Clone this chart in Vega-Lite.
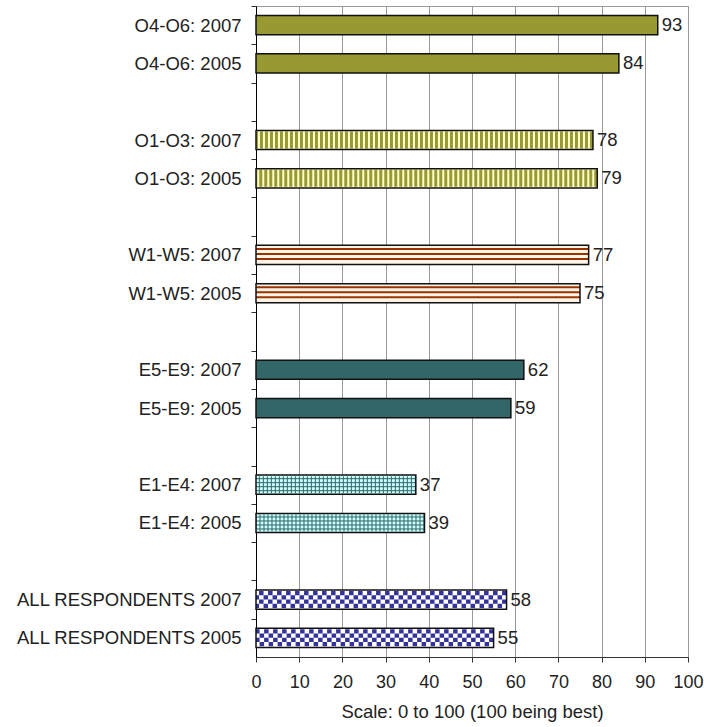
{
  "$schema": "https://vega.github.io/schema/vega-lite/v6.json",
  "width": 432,
  "height": 651,
  "autosize": {"type": "none"},
  "padding": {"left": 256, "top": 6, "right": 16, "bottom": 70},
  "background": "white",
  "config": {"view": {"stroke": "#999999", "strokeWidth": 1}, "font": "Liberation Sans"},
  "data": {"values": [
    {"label": "O4-O6: 2007", "group": "O4-O6", "value": 93},
    {"label": "O4-O6: 2005", "group": "O4-O6", "value": 84},
    {"label": "O1-O3: 2007", "group": "O1-O3", "value": 78},
    {"label": "O1-O3: 2005", "group": "O1-O3", "value": 79},
    {"label": "W1-W5: 2007", "group": "W1-W5", "value": 77},
    {"label": "W1-W5: 2005", "group": "W1-W5", "value": 75},
    {"label": "E5-E9: 2007", "group": "E5-E9", "value": 62},
    {"label": "E5-E9: 2005", "group": "E5-E9", "value": 59},
    {"label": "E1-E4: 2007", "group": "E1-E4", "value": 37},
    {"label": "E1-E4: 2005", "group": "E1-E4", "value": 39},
    {"label": "ALL RESPONDENTS 2007", "group": "ALL", "value": 58},
    {"label": "ALL RESPONDENTS 2005", "group": "ALL", "value": 55}
  ]},
  "encoding": {
    "y": {
      "field": "label",
      "type": "nominal",
      "scale": {
        "domain": ["O4-O6: 2007", "O4-O6: 2005", "gap1", "O1-O3: 2007", "O1-O3: 2005", "gap2", "W1-W5: 2007", "W1-W5: 2005", "gap3", "E5-E9: 2007", "E5-E9: 2005", "gap4", "E1-E4: 2007", "E1-E4: 2005", "gap5", "ALL RESPONDENTS 2007", "ALL RESPONDENTS 2005"],
        "paddingInner": 0.5,
        "paddingOuter": 0.25
      },
      "axis": {
        "title": null,
        "labelExpr": "indexof(datum.value, 'gap') == 0 ? '' : datum.value",
        "labelFontSize": 18.5,
        "labelLimit": 0,
        "labelColor": "#222222",
        "labelPadding": 10,
        "domainColor": "#000000",
        "tickColor": "#333333",
        "tickSize": 5,
        "tickOffset": -19.15,
        "labelOffset": 19.15,
        "grid": false
      }
    },
    "x": {
      "field": "value",
      "type": "quantitative",
      "scale": {"domain": [0, 100], "nice": false},
      "axis": {
        "title": "Scale: 0 to 100 (100 being best)",
        "values": [0, 10, 20, 30, 40, 50, 60, 70, 80, 90, 100],
        "grid": true,
        "gridColor": "#999999",
        "gridWidth": 1,
        "domainColor": "#333333",
        "tickColor": "#333333",
        "tickSize": 5,
        "labelFontSize": 18,
        "labelColor": "#222222",
        "labelPadding": 11,
        "labelFlush": false,
        "titleFontSize": 18.5,
        "titleFontWeight": "normal",
        "titleColor": "#222222",
        "titlePadding": 11
      }
    }
  },
  "layer": [
    {
      "mark": {"type": "bar", "strokeWidth": 0},
      "encoding": {
        "color": {
          "field": "group",
          "type": "nominal",
          "scale": {"domain": ["O4-O6", "O1-O3", "W1-W5", "E5-E9", "E1-E4", "ALL"], "range": ["#999933", "#ffffcc", "#fff4e8", "#336666", "#ccffff", "#ffffff"]},
          "legend": null
        }
      }
    },
    {
      "transform": [{"filter": "datum.group == 'O1-O3'"}],
      "mark": {"type": "rule", "color": "#999933", "strokeWidth": 17, "strokeDash": [3, 2]},
      "encoding": {"x2": {"datum": 0}}
    },
    {
      "transform": [{"filter": "datum.group == 'W1-W5'"}],
      "mark": {"type": "rule", "color": "#993300", "strokeWidth": 2, "yOffset": -6},
      "encoding": {"x2": {"datum": 0}}
    },
    {
      "transform": [{"filter": "datum.group == 'W1-W5'"}],
      "mark": {"type": "rule", "color": "#993300", "strokeWidth": 2, "yOffset": -1},
      "encoding": {"x2": {"datum": 0}}
    },
    {
      "transform": [{"filter": "datum.group == 'W1-W5'"}],
      "mark": {"type": "rule", "color": "#993300", "strokeWidth": 2, "yOffset": 4},
      "encoding": {"x2": {"datum": 0}}
    },
    {
      "transform": [{"filter": "datum.group == 'E1-E4'"}],
      "mark": {"type": "rule", "color": "#336666", "strokeWidth": 17, "strokeDash": [1, 3]},
      "encoding": {"x2": {"datum": 0}}
    },
    {
      "transform": [{"filter": "datum.group == 'E1-E4'"}],
      "mark": {"type": "rule", "color": "#336666", "strokeWidth": 1, "yOffset": -6},
      "encoding": {"x2": {"datum": 0}}
    },
    {
      "transform": [{"filter": "datum.group == 'E1-E4'"}],
      "mark": {"type": "rule", "color": "#336666", "strokeWidth": 1, "yOffset": -2},
      "encoding": {"x2": {"datum": 0}}
    },
    {
      "transform": [{"filter": "datum.group == 'E1-E4'"}],
      "mark": {"type": "rule", "color": "#336666", "strokeWidth": 1, "yOffset": 2},
      "encoding": {"x2": {"datum": 0}}
    },
    {
      "transform": [{"filter": "datum.group == 'E1-E4'"}],
      "mark": {"type": "rule", "color": "#336666", "strokeWidth": 1, "yOffset": 6},
      "encoding": {"x2": {"datum": 0}}
    },
    {
      "transform": [{"filter": "datum.group == 'ALL'"}],
      "mark": {"type": "rule", "color": "#333399", "strokeWidth": 4.25, "yOffset": -6.375, "strokeDash": [4.5, 4.5], "strokeDashOffset": 0},
      "encoding": {"x2": {"datum": 0}}
    },
    {
      "transform": [{"filter": "datum.group == 'ALL'"}],
      "mark": {"type": "rule", "color": "#333399", "strokeWidth": 4.25, "yOffset": -2.125, "strokeDash": [4.5, 4.5], "strokeDashOffset": 4.5},
      "encoding": {"x2": {"datum": 0}}
    },
    {
      "transform": [{"filter": "datum.group == 'ALL'"}],
      "mark": {"type": "rule", "color": "#333399", "strokeWidth": 4.25, "yOffset": 2.125, "strokeDash": [4.5, 4.5], "strokeDashOffset": 0},
      "encoding": {"x2": {"datum": 0}}
    },
    {
      "transform": [{"filter": "datum.group == 'ALL'"}],
      "mark": {"type": "rule", "color": "#333399", "strokeWidth": 4.25, "yOffset": 6.375, "strokeDash": [4.5, 4.5], "strokeDashOffset": 4.5},
      "encoding": {"x2": {"datum": 0}}
    },
    {
      "mark": {"type": "bar", "fillOpacity": 0, "stroke": "#111111", "strokeWidth": 1.5}
    },
    {
      "mark": {"type": "text", "align": "left", "baseline": "middle", "dx": 4, "fontSize": 18.5, "color": "#222222"},
      "encoding": {"text": {"field": "value", "type": "quantitative"}}
    }
  ]
}
